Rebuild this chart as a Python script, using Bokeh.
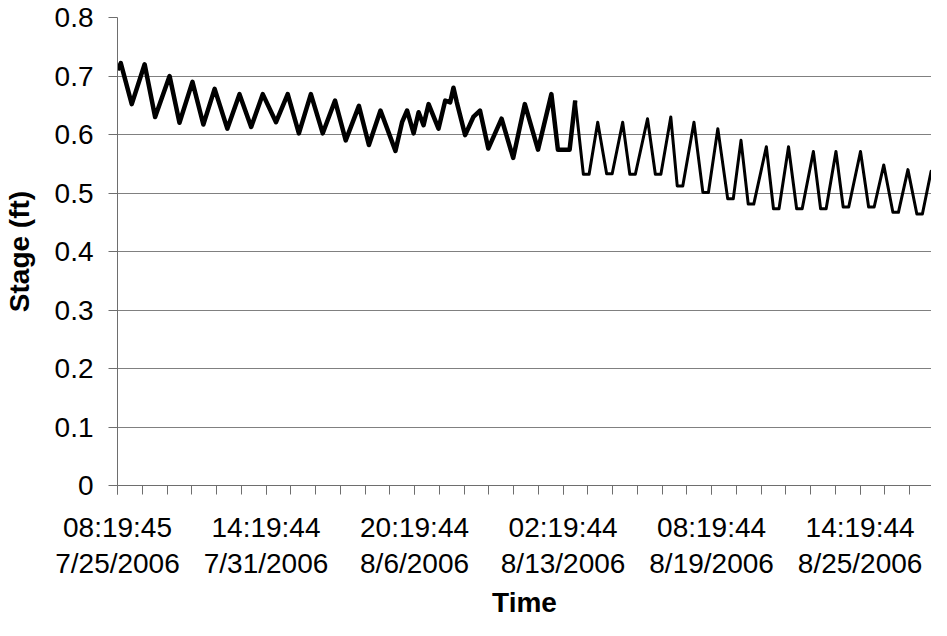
from bokeh.plotting import figure
from bokeh.models import FixedTicker, Range1d
from bokeh.embed import file_html
from bokeh.resources import INLINE

# hours elapsed since 08:19:45 7/25/2006
hours = [0, 3.3, 14.4, 27.4, 38.0, 52.6, 62.6, 75.7, 86.7, 98.1, 110.9, 123.2,
         135.0, 146.7, 160.1, 171.9, 183.2, 195.3, 207.3, 219.7, 230.5, 243.8,
         253.9, 265.6, 280.7, 287.4, 292.5, 299.1, 304.1, 309.1, 314.2, 324.2,
         331.0, 336.0, 339.3, 342.7, 351.1, 359.4, 366.1, 374.5, 387.9, 399.6,
         411.4, 424.7, 438.2, 444.8, 456.6, 462.3, 470.5, 476.3, 485.0, 494.0,
         499.6, 510.2, 517.4, 523.0, 535.3, 543.2, 548.8, 558.8, 565.3, 570.9,
         582.2, 591.2, 596.8, 606.3, 616.3, 621.9, 629.7, 637.0, 642.6, 655.3,
         662.5, 668.1, 677.7, 685.9, 691.5, 702.8, 710.1, 715.7, 725.6, 732.9,
         738.5, 750.4, 758.6, 764.2, 773.9, 783.1, 788.7, 798.3, 807.3, 812.9,
         821.7, 830.2]
stage = [0.710, 0.722, 0.652, 0.720, 0.630, 0.700, 0.620, 0.690, 0.617, 0.678, 0.610, 0.669,
         0.613, 0.669, 0.621, 0.669, 0.602, 0.669, 0.602, 0.658, 0.590, 0.649,
         0.582, 0.641, 0.572, 0.621, 0.641, 0.602, 0.638, 0.616, 0.652, 0.610,
         0.658, 0.655, 0.680, 0.655, 0.599, 0.630, 0.641, 0.576, 0.627, 0.560,
         0.652, 0.574, 0.669, 0.574, 0.574, 0.658, 0.532, 0.532, 0.621, 0.533,
         0.533, 0.621, 0.532, 0.532, 0.627, 0.532, 0.532, 0.630, 0.512, 0.512,
         0.621, 0.501, 0.501, 0.610, 0.490, 0.490, 0.590, 0.481, 0.481, 0.579,
         0.473, 0.473, 0.579, 0.473, 0.473, 0.571, 0.473, 0.473, 0.571, 0.476,
         0.476, 0.571, 0.476, 0.476, 0.548, 0.467, 0.467, 0.540, 0.464, 0.464,
         0.537, 0.481]

label_hours = [0, 150, 300, 450, 600, 750]
tick_labels = ["08:19:45\n7/25/2006", "14:19:44\n7/31/2006", "20:19:44\n8/6/2006",
               "02:19:44\n8/13/2006", "08:19:44\n8/19/2006", "14:19:44\n8/25/2006"]
minor_hours = [0, 25, 50, 75, 100, 125, 150, 175, 200, 225, 250, 275, 300, 325, 350,
               375, 400, 425, 450, 475, 500, 525, 550, 575, 600, 625, 650, 675, 700,
               725, 750, 775, 800, 825]
y_ticks = [0, 0.1, 0.2, 0.3, 0.4, 0.5, 0.6, 0.7, 0.8]
y_tick_labels = ["0", "0.1", "0.2", "0.3", "0.4", "0.5", "0.6", "0.7", "0.8"]

FONT = "Liberation Sans"
AX = "#6e6e6e"

p = figure(width=931, height=620, output_backend="svg", toolbar_location=None,
           x_range=Range1d(0, 822.1), y_range=Range1d(0, 0.8),
           min_border_left=113, min_border_right=0, min_border_top=17,
           min_border_bottom=135)
p.outline_line_color = None
p.background_fill_color = "white"
p.border_fill_color = "white"

# noisier first part drawn as a thicker band, later part thinner
split = next(i for i, h in enumerate(hours) if h >= 462)
p.line(hours[:split + 1], stage[:split + 1], line_color="black", line_width=4.5,
       line_join="round")
p.line(hours[split:], stage[split:], line_color="black", line_width=3,
       line_join="round")

# y axis
ya = p.yaxis[0]
ya.ticker = FixedTicker(ticks=y_ticks)
ya.major_label_overrides = {t: s for t, s in zip(y_ticks, y_tick_labels)}
ya.major_tick_out = 9
ya.major_tick_in = 0
ya.minor_tick_out = 0
ya.minor_tick_in = 0
ya.axis_line_color = AX
ya.major_tick_line_color = AX
ya.major_label_standoff = 15
ya.major_label_text_font = FONT
ya.major_label_text_font_size = "28px"
ya.major_label_text_color = "black"
ya.axis_label = "Stage (ft)"
ya.axis_label_text_font = FONT
ya.axis_label_text_font_style = "bold"
ya.axis_label_text_font_size = "28px"
ya.axis_label_text_color = "black"
ya.axis_label_standoff = 17

# x axis
xa = p.xaxis[0]
xa.ticker = FixedTicker(ticks=label_hours, minor_ticks=minor_hours)
xa.major_label_overrides = {t: s for t, s in zip(label_hours, tick_labels)}
xa.major_tick_out = 9
xa.major_tick_in = 0
xa.minor_tick_out = 9
xa.minor_tick_in = 0
xa.axis_line_color = AX
xa.major_tick_line_color = AX
xa.minor_tick_line_color = AX
xa.major_label_standoff = 17
xa.major_label_text_font = FONT
xa.major_label_text_font_size = "28px"
xa.major_label_text_color = "black"
xa.major_label_text_line_height = 1.17
xa.axis_label = "Time"
xa.axis_label_text_font = FONT
xa.axis_label_text_font_style = "bold"
xa.axis_label_text_font_size = "28px"
xa.axis_label_text_color = "black"
xa.axis_label_standoff = 5

p.xgrid.visible = False
p.ygrid.grid_line_color = "#808080"
p.ygrid.grid_line_width = 1

open("out.html", "w").write(file_html(p, INLINE))
